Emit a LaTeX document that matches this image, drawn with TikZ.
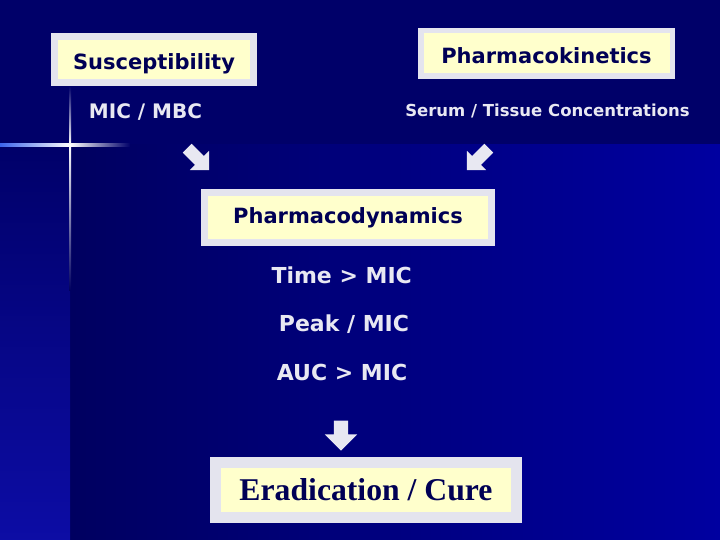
\documentclass[tikz,border=0pt]{standalone}
\usepackage{fontspec}
\setmainfont{DejaVu Sans}
\newfontfamily\serifschrift{Liberation Serif}
\usetikzlibrary{shapes.arrows}

\definecolor{navy}{RGB}{0,0,105}
\definecolor{tiefblau}{RGB}{0,0,96}
\definecolor{hellblau}{RGB}{0,0,160}
\definecolor{strahl}{RGB}{60,100,235}
\definecolor{rahmen}{RGB}{228,228,238}
\definecolor{creme}{RGB}{255,255,204}
\definecolor{tinte}{RGB}{0,0,85}
\definecolor{hell}{RGB}{232,232,242}

\tikzset{
  kasten/.style={draw=rahmen, fill=creme, text=tinte, inner sep=0pt,
    text depth=0pt, font=\bfseries\fontsize{21}{25}\selectfont},
  notiz/.style={text=hell, anchor=base, inner sep=0pt,
    font=\bfseries\fontsize{22}{26}\selectfont},
  pfeil/.style={single arrow, fill=hell, draw=none, inner sep=0pt,
    text depth=0pt, shape border uses incircle=false}
}

\begin{document}
\begin{tikzpicture}[x=1pt,y=-1pt]
    % 背景
    \fill[navy] (0,0) rectangle (720,540);
    \shade[left color=tiefblau, right color=hellblau] (70,145) rectangle (720,540);
    \shade[top color=navy, bottom color=hellblau!95!white] (0,145) rectangle (70,540);

    % 十字光线
    \shade[left color=strahl, right color=white] (0,144) rectangle (70,146.2);
    \shade[left color=white, right color=navy] (70,144) rectangle (130,146.2);
    \shade[top color=navy, bottom color=white] (69,86) rectangle (71.2,145);
    \shade[top color=white, bottom color=tiefblau] (69,145) rectangle (71.2,290);

    % 方框
    \node[kasten, line width=7pt, minimum width=199pt, minimum height=46pt,
      text height=21pt] (Susc) at (154,59.5) {Susceptibility};
    \node[kasten, line width=5.5pt, minimum width=251.5pt, minimum height=45.5pt,
      text height=19.6pt] (PK) at (546.5,53.5) {Pharmacokinetics};
    \node[kasten, line width=7pt, minimum width=287pt, minimum height=50pt,
      text height=13pt] (PD) at (348,217.5) {Pharmacodynamics};
    \node[kasten, line width=11pt, minimum width=301pt, minimum height=55pt,
      text height=20pt, font=\serifschrift\bfseries\fontsize{31.7}{36}\selectfont]
      (Cure) at (366,490) {Eradication / Cure};

    % 文字
    \node[notiz, font=\bfseries\fontsize{20}{24}\selectfont] (MIC) at (145.5,119) {MIC / MBC};
    \node[notiz, font=\bfseries\fontsize{16.5}{20}\selectfont] (Serum) at (547.5,117) {Serum / Tissue Concentrations};
    \node[notiz] (Time) at (341.7,283) {Time > MIC};
    \node[notiz] (Peak) at (344,331.5) {Peak / MIC};
    \node[notiz] (AUC) at (342,380) {AUC > MIC};

    % 箭头
    \node[pfeil, text height=12pt, single arrow head extend=7.5pt, minimum height=31pt,
      rotate=-45] (P1) at (196,157) {};
    \node[pfeil, text height=12pt, single arrow head extend=7.5pt, minimum height=31pt,
      rotate=-135] (P2) at (480,157) {};
    \node[pfeil, text height=14pt, single arrow head extend=9pt, minimum height=30pt,
      rotate=-90] (P3) at (341,432) {};

\end{tikzpicture}
\end{document}
